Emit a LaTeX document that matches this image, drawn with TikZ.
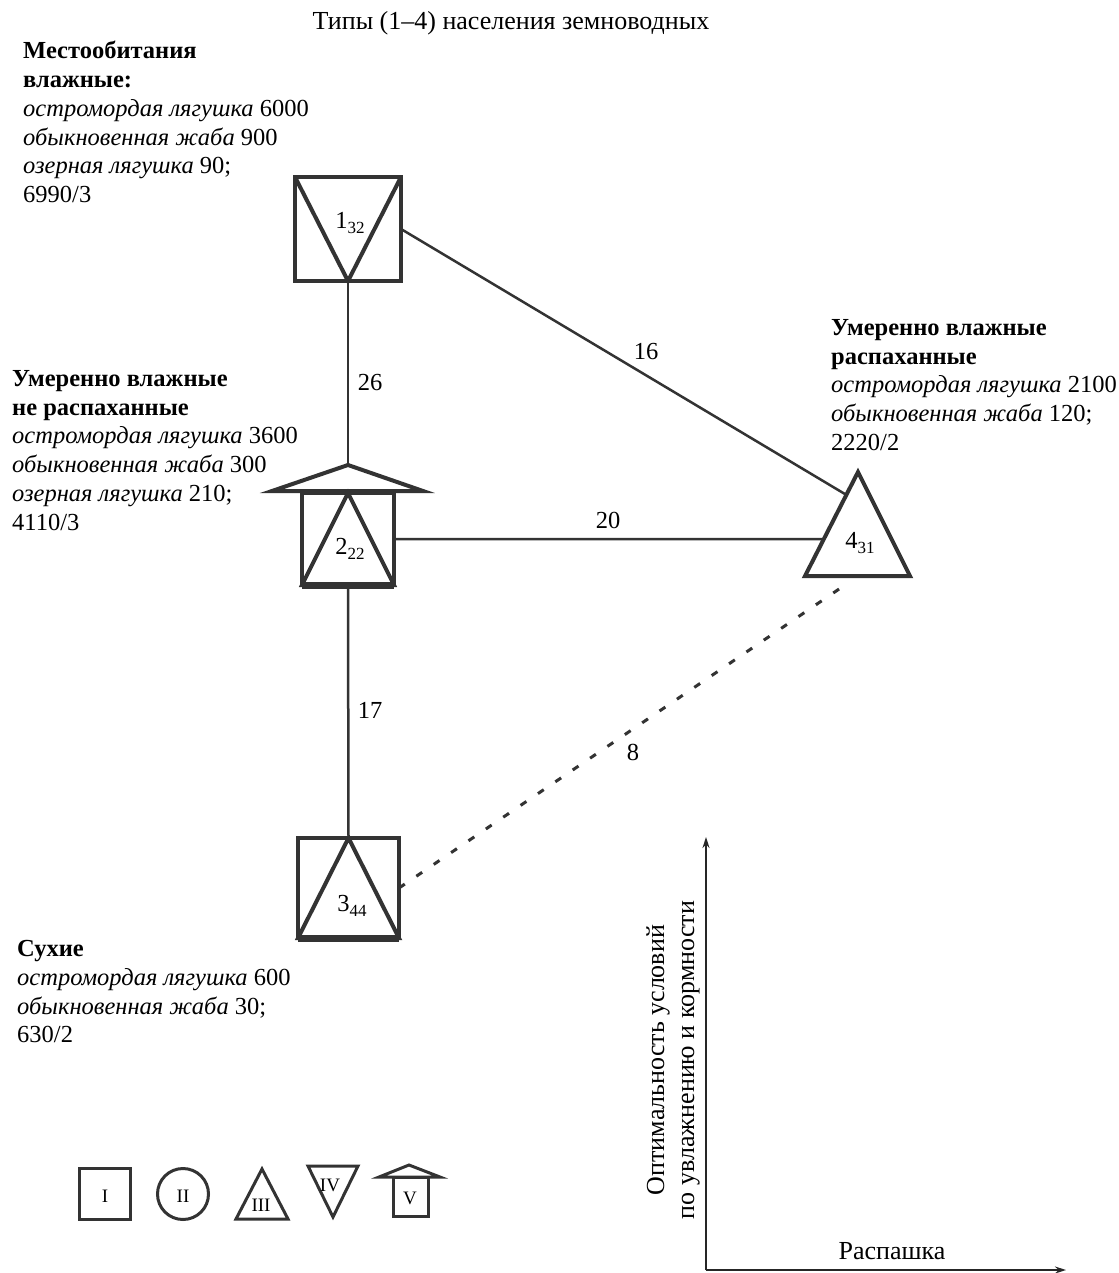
\documentclass[tikz,border=0pt]{standalone}
\usepackage{fontspec}
\setmainfont{Liberation Serif}
\usetikzlibrary{calc,arrows.meta}
\newcommand{\sbs}[1]{\raisebox{-5pt}{\fontsize{17}{17}\selectfont #1}}
\tikzset{
  shp/.style={draw=black!80, line width=4pt, line join=miter},
  thickbot/.style={draw=black!80, line width=7pt},
  sqbox/.style={draw=black!80, line width=4pt, inner sep=0pt, outer sep=0pt},
  conn/.style={draw=black!80, line width=2.5pt},
  dotconn/.style={draw=black!80, line width=3pt, dash pattern=on 7pt off 14pt},
  lgd/.style={draw=black!80, line width=3pt, line join=miter},
  txt/.style={inner sep=0pt, font=\fontsize{24.5}{28.8}\selectfont},
  bigtxt/.style={inner sep=0pt, font=\fontsize{26}{30}\selectfont},
  blk/.style={txt, anchor=north west, align=left},
  elab/.style={txt},
  lgtxt/.style={inner sep=0pt, font=\fontsize{19}{19}\selectfont},
  axis/.style={draw=black!85, line width=1.5pt, -{Stealth[length=11pt,width=7pt]}}
}
\begin{document}
\begin{tikzpicture}[x=1pt,y=-1pt]
\useasboundingbox (0,0) rectangle (1118,1273);
\fill[white] (0,0) rectangle (1118,1273);

% title
\node[bigtxt, anchor=base] (title) at (511,30) {Типы (1–4) населения земноводных};

% node 1
\node[sqbox, minimum width=106pt, minimum height=104pt] (n1) at (348,229) {};
\draw[shp] (n1.north west) -- (n1.south) -- (n1.north east);
\node[txt] (l1) at (350,223) {1\sbs{32}};

% node 2
\node[sqbox, minimum width=92pt, minimum height=92pt] (n2) at (348,539) {};
\coordinate (r2a) at (348,465);
\coordinate (r2l) at (272,491);
\coordinate (r2r) at (423,491);
\draw[shp] (r2l) -- (r2a) -- (r2r) -- cycle;
\draw[shp] (n2.north) -- (n2.south west) -- (n2.south east) -- cycle;
\draw[thickbot] (n2.south west) -- (n2.south east);
\node[txt] (l2) at (350,549) {2\sbs{22}};

% node 3
\node[sqbox, minimum width=101pt, minimum height=100pt] (n3) at (348.5,888) {};
\draw[shp] (n3.north) -- (n3.south west) -- (n3.south east) -- cycle;
\draw[thickbot] (n3.south west) -- (n3.south east);
\node[txt] (l3) at (352,906) {3\sbs{44}};

% node 4
\coordinate (t4a) at (858,472);
\coordinate (t4l) at (805,576);
\coordinate (t4r) at (910,576);
\draw[shp] (t4a) -- (t4l) -- (t4r) -- cycle;
\node[txt] (l4) at (860,543) {4\sbs{31}};
\coordinate (e14) at ($(t4a)!0.22!(t4l)$);
\coordinate (e24) at ($(t4a)!0.645!(t4l)$);
\coordinate (e34) at (845,585);

% connectors
\draw[conn] (n1.south) -- (r2a);
\draw[conn] (n2.south) -- (n3.north);
\draw[conn] (n1.east) -- (e14);
\draw[conn] (n2.east) -- (e24);
\draw[dotconn] (n3.east) -- (e34);

% connector labels
\node[elab] (w26) at (370,383) {26};
\node[elab] (w17) at (370,710) {17};
\node[elab] (w16) at (646,352) {16};
\node[elab] (w20) at (608,520) {20};
\node[elab] (w8)  at (633,752) {8};

% text blocks
\node[blk] (b1) at (23,41) {\textbf{Местообитания}\\\textbf{влажные:}\\\textit{остромордая лягушка} 6000\\\textit{обыкновенная жаба} 900\\\textit{озерная лягушка} 90;\\6990/3};
\node[blk] (b2) at (12,370) {\textbf{Умеренно влажные}\\\textbf{не распаханные}\\\textit{остромордая лягушка} 3600\\\textit{обыкновенная жаба} 300\\\textit{озерная лягушка} 210;\\4110/3};
\node[blk] (b4) at (831,319) {\textbf{Умеренно влажные}\\\textbf{распаханные}\\\textit{остромордая лягушка} 2100\\\textit{обыкновенная жаба} 120;\\2220/2};
\node[blk] (b3) at (17,940) {\textbf{Сухие}\\\textit{остромордая лягушка} 600\\\textit{обыкновенная жаба} 30;\\630/2};

% legend
\node[lgd, minimum width=51pt, minimum height=51pt, inner sep=0pt] (g1) at (105,1194) {};
\node[lgtxt] (g1t) at (105,1196) {I};
\node[lgd, circle, minimum size=51pt, inner sep=0pt] (g2) at (183,1194) {};
\node[lgtxt] (g2t) at (183,1196) {II};
\coordinate (g3a) at (262,1169);
\coordinate (g3l) at (236,1219);
\coordinate (g3r) at (288,1219);
\draw[lgd] (g3a) -- (g3l) -- (g3r) -- cycle;
\node[lgtxt] (g3t) at (261,1205) {III};
\coordinate (g4l) at (308,1166);
\coordinate (g4r) at (358,1166);
\coordinate (g4a) at (333,1217);
\draw[lgd] (g4l) -- (g4r) -- (g4a) -- cycle;
\node[lgtxt] (g4t) at (330,1185) {IV};
\coordinate (g5a) at (409,1165);
\coordinate (g5l) at (379,1177);
\coordinate (g5r) at (440,1177);
\draw[lgd] (g5l) -- (g5a) -- (g5r) -- cycle;
\draw[lgd] (393,1177) rectangle (428,1216);
\node[lgtxt] (g5t) at (410,1198) {V};

% axes
\coordinate (o) at (706,1270);
\coordinate (ytip) at (706,837);
\coordinate (xtip) at (1066,1270);
\draw[axis] (o) -- (ytip);
\draw[axis] (o) -- (xtip);
\node[bigtxt, anchor=base] (xlab) at (892,1259) {Распашка};
\node[bigtxt, rotate=90, align=center] (ylab) at (673,1060) {Оптимальность условий\\по увлажнению и кормности};
\end{tikzpicture}
\end{document}
